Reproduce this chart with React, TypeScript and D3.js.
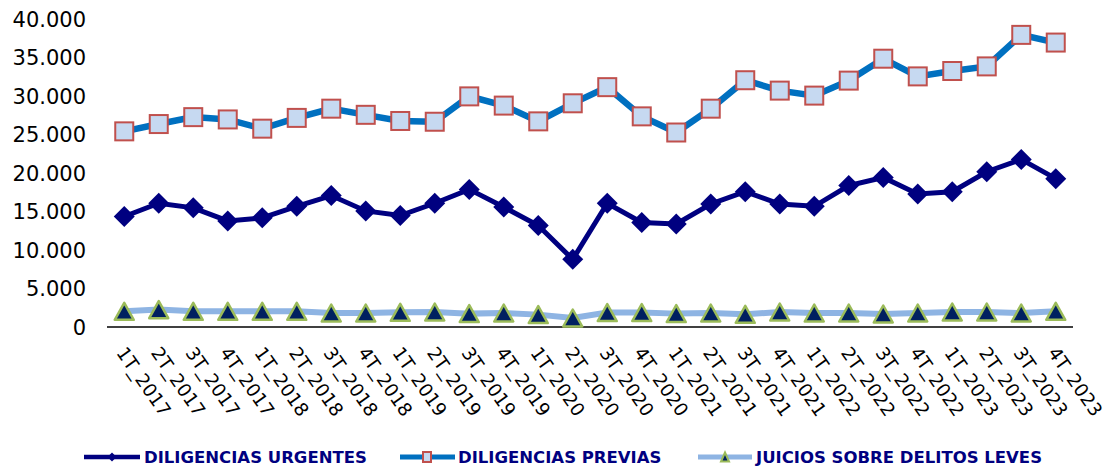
import React from "react";
import * as d3 from "d3";

// quarters 2017-2023
const quarters = [
  "1T_2017", "2T_2017", "3T_2017", "4T_2017",
  "1T_2018", "2T_2018", "3T_2018", "4T_2018",
  "1T_2019", "2T_2019", "3T_2019", "4T_2019",
  "1T_2020", "2T_2020", "3T_2020", "4T_2020",
  "1T_2021", "2T_2021", "3T_2021", "4T_2021",
  "1T_2022", "2T_2022", "3T_2022", "4T_2022",
  "1T_2023", "2T_2023", "3T_2023", "4T_2023",
];

const urgentes = [
  14370, 16100, 15500, 13800, 14200, 15700, 17100, 15100, 14500, 16100,
  17900, 15600, 13200, 8800, 16100, 13600, 13400, 16000, 17600, 16000,
  15700, 18400, 19450, 17300, 17600, 20200, 21800, 19300,
];

const previas = [
  25450, 26400, 27300, 27000, 25800, 27200, 28400, 27600, 26800, 26700,
  30000, 28800, 26750, 29100, 31200, 27400, 25300, 28400, 32100, 30750,
  30100, 32050, 34900, 32600, 33300, 33900, 38000, 37000,
];

const juicios = [
  2040, 2260, 2040, 2040, 2040, 2040, 1820, 1820, 1910, 1950,
  1740, 1820, 1610, 1170, 1870, 1870, 1740, 1820, 1650, 1950,
  1820, 1820, 1690, 1820, 1950, 1950, 1820, 2040,
];

const yTicks = [0, 5000, 10000, 15000, 20000, 25000, 30000, 35000, 40000];

const seriesNames = [
  "DILIGENCIAS URGENTES",
  "DILIGENCIAS PREVIAS",
  "JUICIOS SOBRE DELITOS LEVES",
];

const fmt = (v: number) =>
  v === 0 ? "0" : d3.format(",")(v).replace(/,/g, ".");

const diamond = (cx: number, cy: number, r: number) =>
  `M${cx},${cy - r}L${cx + r},${cy}L${cx},${cy + r}L${cx - r},${cy}Z`;

const triangle = (cx: number, cy: number, w: number, h: number) =>
  `M${cx},${cy - h / 2}L${cx + w / 2},${cy + h / 2}L${cx - w / 2},${cy + h / 2}Z`;

export default function App() {
  const width = 1107;
  const height = 468;

  const x = d3.scaleBand<string>().domain(quarters).range([107, 1073]);
  const cx = (q: string) => (x(q) as number) + x.bandwidth() / 2;
  const y = d3.scaleLinear().domain([0, 40000]).range([327, 19.5]);

  const line = d3
    .line<number>()
    .x((_, i) => cx(quarters[i]))
    .y((d) => y(d));

  const font = "DejaVu Sans, Verdana, sans-serif";

  return (
    <svg
      width={width}
      height={height}
      style={{ position: "absolute", left: 0, top: 0, background: "#fff" }}
      fontFamily={font}
    >
      {/* y axis labels */}
      {yTicks.map((t) => (
        <text
          key={t}
          x={86}
          y={y(t)}
          dy="0.36em"
          textAnchor="end"
          fontSize={21}
          fill="#000"
        >
          {fmt(t)}
        </text>
      ))}

      {/* x axis */}
      <line x1={107} x2={1073} y1={y(0)} y2={y(0)} stroke="#000" strokeWidth={1.5} />
      {quarters.map((q) => (
        <text
          key={q}
          transform={`translate(${cx(q) - 3}, ${349}) rotate(55)`}
          dy="0.36em"
          fontSize={18.5}
          fill="#000"
        >
          {q}
        </text>
      ))}

      {/* juicios */}
      <path d={line(juicios) || ""} fill="none" stroke="#8EB4E3" strokeWidth={6} />
      {juicios.map((v, i) => (
        <path
          key={`j${i}`}
          d={triangle(cx(quarters[i]), y(v), 19, 17)}
          fill="#002060"
          stroke="#9BBB59"
          strokeWidth={2.5}
          strokeLinejoin="round"
        />
      ))}

      {/* previas */}
      <path d={line(previas) || ""} fill="none" stroke="#0070C0" strokeWidth={6.5} />
      {previas.map((v, i) => (
        <rect
          key={`p${i}`}
          x={cx(quarters[i]) - 9}
          y={y(v) - 9}
          width={18}
          height={18}
          fill="#C6D9F1"
          stroke="#C0504D"
          strokeWidth={2}
        />
      ))}

      {/* urgentes */}
      <path d={line(urgentes) || ""} fill="none" stroke="#000080" strokeWidth={5} />
      {urgentes.map((v, i) => (
        <path key={`u${i}`} d={diamond(cx(quarters[i]), y(v), 10.5)} fill="#000080" />
      ))}

      {/* legend */}
      <g fontSize={16.5} fontWeight="bold" fill="#000080">
        <line x1={84} x2={140} y1={457} y2={457} stroke="#000080" strokeWidth={4.5} />
        <path d={diamond(112, 457, 4.5)} fill="#000080" />
        <text x={144} y={457} dy="0.36em">{seriesNames[0]}</text>

        <line x1={400} x2={455} y1={457} y2={457} stroke="#0070C0" strokeWidth={5} />
        <rect x={423} y={452} width={8} height={10} fill="#C6D9F1" stroke="#C0504D" strokeWidth={2} />
        <text x={458} y={457} dy="0.36em">{seriesNames[1]}</text>

        <line x1={698} x2={752} y1={457} y2={457} stroke="#8EB4E3" strokeWidth={5} />
        <path d={triangle(725, 457, 8, 9)} fill="#002060" stroke="#9BBB59" strokeWidth={2} />
        <text x={756} y={457} dy="0.36em">{seriesNames[2]}</text>
      </g>
    </svg>
  );
}
